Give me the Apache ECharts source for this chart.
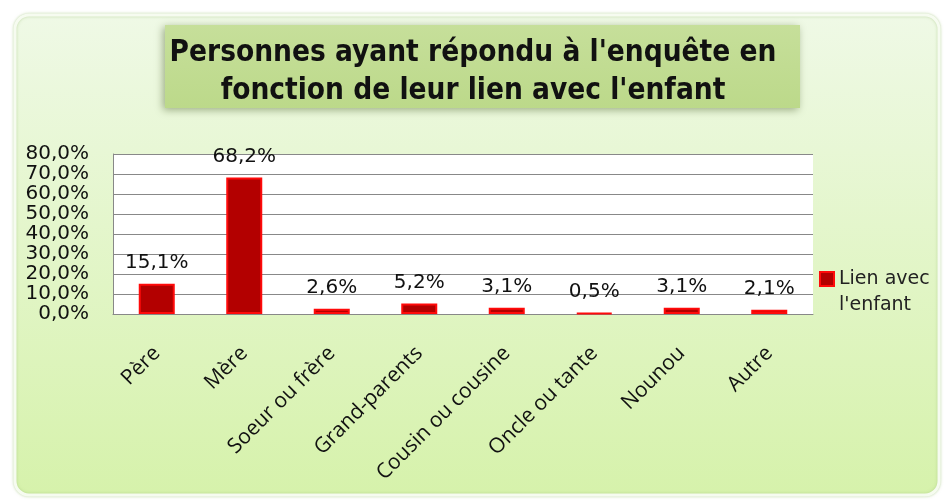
<!DOCTYPE html>
<html lang="fr">
<head>
<meta charset="utf-8">
<title>Lien avec l'enfant</title>
<style>
  html, body { margin: 0; padding: 0; background: #fff; }
  #chart { width: 946px; height: 502px; }
</style>
</head>
<body>
<div id="chart"></div>
<script src="https://cdn.jsdelivr.net/npm/echarts@6/dist/echarts.min.js"></script>
<script>
// données
var categories = ['Père', 'Mère', 'Soeur ou frère', 'Grand-parents', 'Cousin ou cousine', 'Oncle ou tante', 'Nounou', 'Autre'];
var values = [15.1, 68.2, 2.6, 5.2, 3.1, 0.5, 3.1, 2.1];
var seriesName = "Lien avec l'enfant";
var titleLines = ["Personnes ayant répondu à l'enquête en", "fonction de leur lien avec l'enfant"];

function pct(v) {
  return v.toFixed(1).replace('.', ',') + '%';
}

var chart = echarts.init(document.getElementById('chart'));

var option = {
  backgroundColor: '#fff',
  animation: false,
  graphic: [
    {
      type: 'rect', z: -10,
      shape: { x: 15, y: 15, width: 924, height: 480, r: 14 },
      style: {
        fill: new echarts.graphic.LinearGradient(0, 0, 0, 1, [
          { offset: 0, color: '#eff9e6' },
          { offset: 1, color: '#d6f2ab' }
        ]),
        stroke: '#f6fbf0', lineWidth: 3,
        shadowBlur: 3, shadowColor: 'rgba(150,190,110,0.5)'
      }
    },
    {
      type: 'rect', z: -5,
      shape: { x: 165, y: 25, width: 635, height: 83 },
      style: {
        fill: new echarts.graphic.LinearGradient(0, 0, 0, 1, [
          { offset: 0, color: '#c6df9a' },
          { offset: 1, color: '#bcd98a' }
        ]),
        shadowBlur: 8, shadowOffsetX: -2, shadowOffsetY: 2,
        shadowColor: 'rgba(90,110,60,0.55)'
      }
    }
  ],
  title: {
    text: titleLines.join('\n'),
    left: 'center',
    top: 29,
    textStyle: {
      fontFamily: 'DejaVu Sans Condensed, Liberation Sans Narrow, sans-serif',
      fontWeight: 'bold',
      fontSize: 29.5,
      lineHeight: 38,
      color: '#111'
    }
  },
  legend: {
    left: 814,
    top: 235,
    orient: 'vertical',
    icon: 'rect',
    itemWidth: 14,
    itemHeight: 14,
    itemGap: 4,
    // ligne vide en tête : l'icône se centre sur "Lien avec"
    formatter: function () { return ' \nLien avec\nl\'enfant'; },
    textStyle: {
      fontFamily: 'DejaVu Sans, Verdana, sans-serif',
      fontSize: 19,
      lineHeight: 26,
      color: '#222'
    },
    data: [seriesName]
  },
  grid: {
    left: 113,
    right: 133,
    top: 154,
    bottom: 188,
    show: true,
    backgroundColor: '#fff',
    borderWidth: 0
  },
  xAxis: {
    type: 'category',
    data: categories,
    axisLine: { show: true, lineStyle: { color: '#888', width: 1 } },
    axisTick: { show: false },
    axisLabel: {
      interval: 0,
      rotate: 45,
      margin: 36,
      fontFamily: 'Open Sans, DejaVu Sans, sans-serif',
      fontSize: 21,
      color: '#111'
    }
  },
  yAxis: {
    type: 'value',
    min: 0,
    max: 80,
    interval: 10,
    axisLine: { show: true, lineStyle: { color: '#888', width: 1 } },
    axisTick: { show: false },
    splitLine: { lineStyle: { color: '#888', width: 1 } },
    axisLabel: {
      margin: 24,
      showMinLabel: true,
      showMaxLabel: true,
      fontFamily: 'DejaVu Sans, Verdana, sans-serif',
      fontSize: 20,
      color: '#111',
      formatter: pct
    }
  },
  series: [
    {
      name: seriesName,
      type: 'bar',
      data: values,
      barWidth: 36,
      itemStyle: {
        color: '#b30000',
        borderColor: '#ff0a0a',
        borderWidth: 2
      },
      label: {
        show: true,
        position: 'top',
        distance: 11,
        fontFamily: 'DejaVu Sans, Verdana, sans-serif',
        fontSize: 20,
        color: '#111',
        formatter: function (p) { return pct(p.value); }
      }
    }
  ]
};

chart.setOption(option);
</script>
</body>
</html>
